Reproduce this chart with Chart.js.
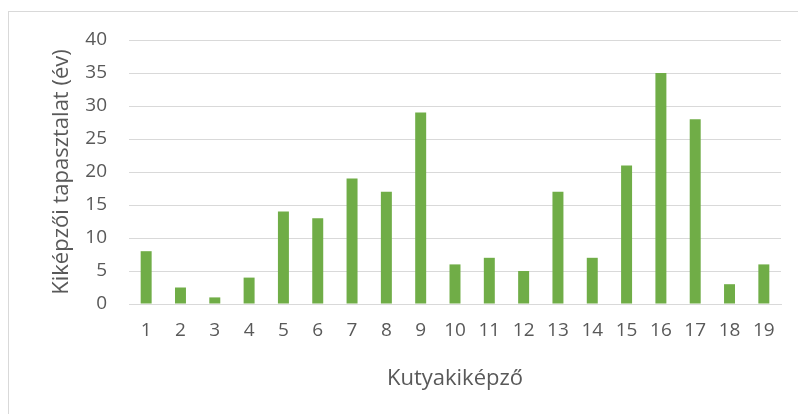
<!DOCTYPE html>
<html>
<head>
<meta charset="utf-8">
<script src="https://cdn.jsdelivr.net/npm/chart.js@4/dist/chart.umd.min.js"></script>
<style>
  html, body { margin: 0; padding: 0; background: #ffffff; }
  #wrap { position: relative; width: 798px; height: 414px; overflow: hidden; }
  #frame { position: absolute; left: 8px; top: 11px; width: 900px; height: 500px;
           border-left: 1px solid #d9d9d9; border-top: 1px solid #d9d9d9; }
  canvas { position: absolute; left: 0; top: 0; }
</style>
</head>
<body>
<div id="wrap">
  <div id="frame"></div>
  <canvas id="c" width="798" height="414"></canvas>
</div>
<script>
const categories = ["1","2","3","4","5","6","7","8","9","10","11","12","13","14","15","16","17","18","19"];
const experienceYears = [8, 2.5, 1, 4, 14, 13, 19, 17, 29, 6, 7, 5, 17, 7, 21, 35, 28, 3, 6];
const yTitle = "Kiképzői tapasztalat (év)";
const xTitle = "Kutyakiképző";

const FONT = "'Open Sans', sans-serif";
const TEXT = "#595959";

new Chart(document.getElementById('c'), {
  type: 'bar',
  data: {
    labels: categories,
    datasets: [{
      data: experienceYears,
      backgroundColor: '#70ad47',
      borderWidth: 0,
      barPercentage: 0.32,
      categoryPercentage: 1.0
    }]
  },
  options: {
    responsive: false,
    animation: false,
    devicePixelRatio: 1,
    layout: { padding: { left: 0, right: 17, top: 40, bottom: 0 } },
    plugins: { legend: { display: false }, tooltip: { enabled: false } },
    scales: {
      x: {
        grid: { display: false, drawTicks: false },
        border: { display: true, color: '#d9d9d9', width: 1 },
        ticks: { color: TEXT, font: { family: FONT, size: 19 }, padding: 15, maxRotation: 0, autoSkip: false },
        title: { display: true, text: xTitle, color: TEXT, font: { family: FONT, size: 22 }, padding: { top: 0, bottom: 22 } },
        afterFit: (s) => { s.height = 110; }
      },
      y: {
        min: 0, max: 40,
        ticks: { stepSize: 5, color: TEXT, font: { family: FONT, size: 19 }, padding: 22 },
        grid: { color: '#d9d9d9', lineWidth: 1, drawTicks: false },
        border: { display: false },
        title: { display: true, text: yTitle, color: TEXT, font: { family: FONT, size: 22 }, padding: { top: 49, bottom: 0 } },
        afterFit: (s) => { s.width = 129; }
      }
    }
  }
});
</script>
</body>
</html>
